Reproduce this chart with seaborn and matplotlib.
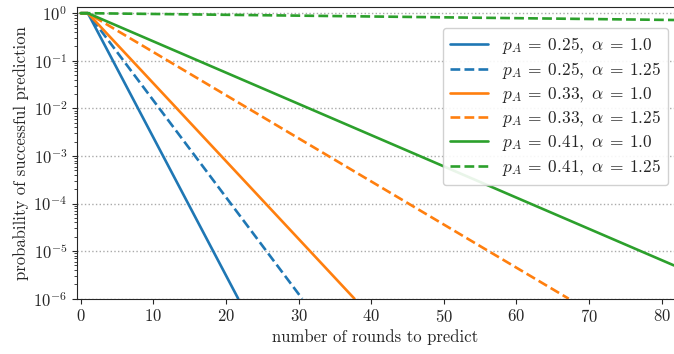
import matplotlib
matplotlib.use("Agg")
from matplotlib import pyplot as plt
import pandas as pd
import seaborn as sns

# values (straight lines on a log axis)
p_values = ["0.25", "0.25", "0.33", "0.33", "0.41", "0.41"]
alpha_values = ["1.0", "1.25", "1.0", "1.25", "1.0", "1.25"]
colors = ["tab:blue", "tab:blue", "tab:orange", "tab:orange",
          "tab:green", "tab:green"]
rounds = [
    [0, 1, 21.7],
    [0, 1, 30.5],
    [0, 1, 37.7],
    [0, 1, 67.2],
    [0, 1, 81.7],
    [0, 1, 81.7],
]
probs = [
    [1.0, 1.0, 1e-6],
    [1.0, 1.0, 1e-6],
    [1.0, 1.0, 1e-6],
    [1.0, 1.0, 1e-6],
    [1.0, 1.0, 5.0e-6],
    [1.0, 1.0, 0.72],
]
x_ticks = [0, 10, 20, 30, 40, 50, 60, 70, 80]

sns.set_style("ticks")
plt.rcParams["font.family"] = "serif"
plt.rcParams["font.serif"] = ["cmr10", "DejaVu Serif"]
plt.rcParams["mathtext.fontset"] = "cm"
plt.rcParams["axes.formatter.use_mathtext"] = True

fig, ax = plt.subplots(figsize=(6.74, 3.54), dpi=100)
fig.subplots_adjust(left=77 / 674, right=1.0, top=1 - 7 / 354,
                    bottom=1 - 298.7 / 354)

for i in range(len(p_values)):
    df = pd.DataFrame({"x": rounds[i], "y": probs[i]})
    ls = "-" if alpha_values[i] == "1.0" else "--"
    label = r"$p_A\:=\:%s,\ \alpha\:=\:%s$" % (p_values[i], alpha_values[i])
    sns.lineplot(data=df, x="x", y="y", ax=ax, color=colors[i],
                 linestyle=ls, linewidth=1.9, label=label)

ax.set_yscale("log")
ax.set_xlim(-0.5, 81.7)
ax.set_ylim(1e-6, 1.35)
ax.set_xticks(x_ticks)
ax.set_yticks([1e-6, 1e-5, 1e-4, 1e-3, 1e-2, 1e-1, 1])
ax.grid(axis="y", which="major", linestyle=":", color="#aaaaaa",
        linewidth=1.0)
ax.spines["right"].set_visible(False)
ax.tick_params(labelsize=12)
ax.set_xlabel("number of rounds to predict", fontsize=12, labelpad=3)
ax.set_ylabel("probability of successful prediction", fontsize=12,
              labelpad=3)
ax.legend(loc="upper right", bbox_to_anchor=(0.99, 0.928), borderaxespad=0,
          fontsize=12.5, frameon=True, fancybox=True, handlelength=2.2,
          labelspacing=0.22, edgecolor="#cccccc", framealpha=0.9)

plt.savefig("out.png", dpi=100)
